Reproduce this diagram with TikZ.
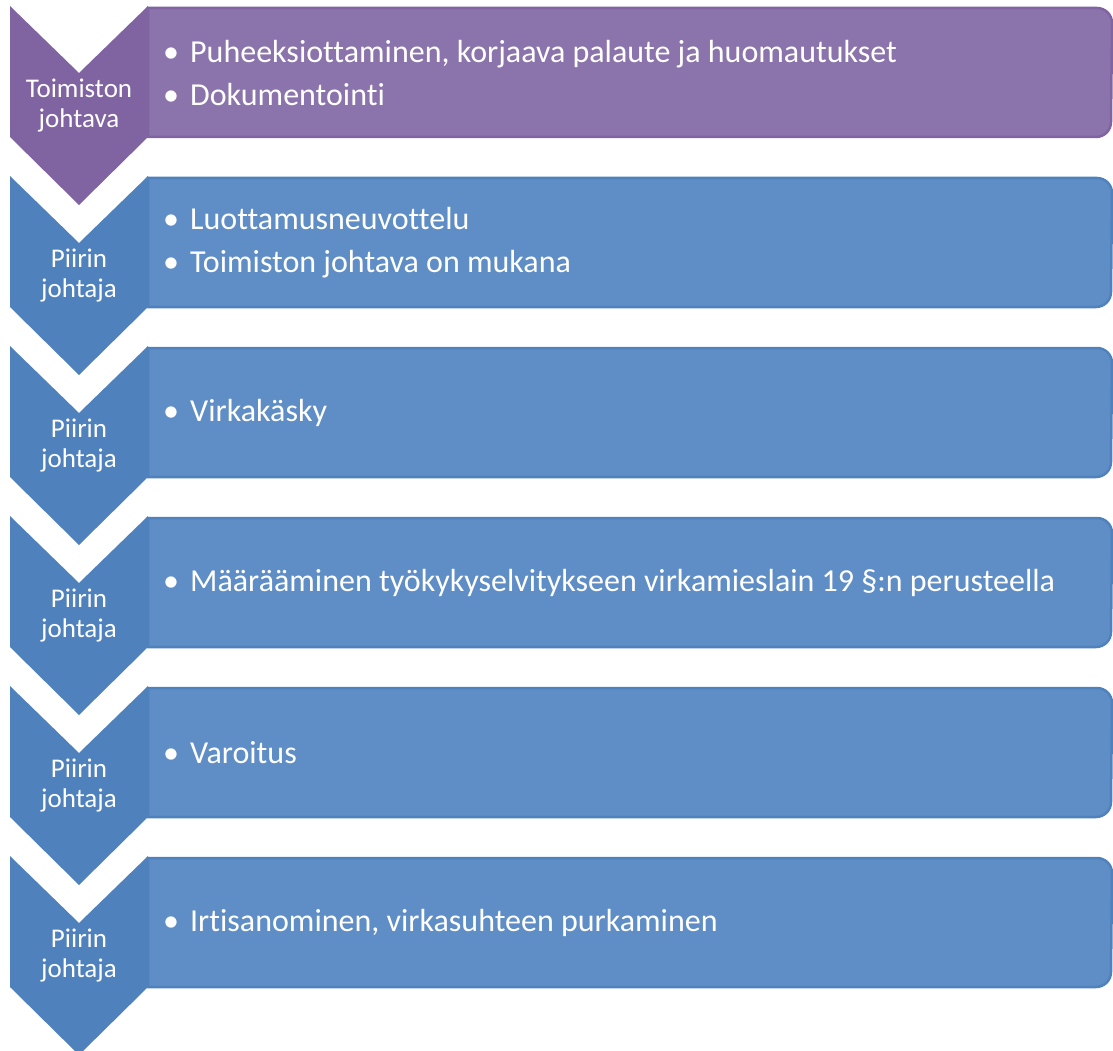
\documentclass[tikz,border=0pt]{standalone}
\usepackage{fontspec}
\setmainfont{Carlito}[Ligatures=NoCommon]
\usepackage{xcolor}
\definecolor{chevpurple}{RGB}{128,100,162}
\definecolor{boxpurple}{RGB}{139,116,171}
\definecolor{chevblue}{RGB}{79,129,189}
\definecolor{boxblue}{RGB}{95,141,197}

\newcommand{\chevron}[2]{% top y, colour
  \fill[#2] (10,#1) -- (79,#1+67) -- (148,#1) -- (148,#1+131) -- (79,#1+199) -- (10,#1+131) -- cycle;}
\newcommand{\itembox}[3]{% top y, fill, border
  \filldraw[fill=#2,draw=#3,line width=2.5pt] (148,#1+2) -- (1097,#1+2)
    arc[start angle=-90,end angle=0,radius=15] -- (1111,#1+116)
    arc[start angle=0,end angle=90,radius=15] -- (148,#1+131) -- cycle;}
\newcommand{\bul}{\makebox[27pt][l]{\textbullet}}

\begin{document}
\begin{tikzpicture}[x=1pt,y=-1pt,
    who/.style={text=white,align=center,inner sep=0pt,font=\fontsize{27}{30}\selectfont},
    what/.style={text=white,align=left,anchor=west,inner sep=0pt,font=\fontsize{32}{43}\selectfont}]
  \useasboundingbox (0,0) rectangle (1113,1051);

  % first step
  \chevron{6}{chevpurple}
  \itembox{6}{boxpurple}{chevpurple}
  \node (who1) at (79,106) [who] {Toimiston\\johtava};
  \node (what1) at (163,73) [what] {\bul Puheeksiottaminen, korjaava palaute ja huomautukset\\\bul Dokumentointi};

  % second step
  \chevron{176}{chevblue}
  \itembox{176}{boxblue}{chevblue}
  \node (who2) at (79,276) [who] {Piirin\\johtaja};
  \node (what2) at (163,243) [what] {\bul Luottamusneuvottelu\\\bul Toimiston johtava on mukana};

  \chevron{346}{chevblue}
  \itembox{346}{boxblue}{chevblue}
  \node (who3) at (79,446) [who] {Piirin\\johtaja};
  \node (what3) at (163,413) [what] {\bul Virkakäsky};

  \chevron{516}{chevblue}
  \itembox{516}{boxblue}{chevblue}
  \node (who4) at (79,616) [who] {Piirin\\johtaja};
  \node (what4) at (163,583) [what] {\bul Määrääminen työkykyselvitykseen virkamieslain 19 §:n perusteella};

  \chevron{686}{chevblue}
  \itembox{686}{boxblue}{chevblue}
  \node (who5) at (79,786) [who] {Piirin\\johtaja};
  \node (what5) at (163,753) [what] {\bul Varoitus};

  % last step
  \chevron{856}{chevblue}
  \itembox{856}{boxblue}{chevblue}
  \node (who6) at (79,956) [who] {Piirin\\johtaja};
  \node (what6) at (163,923) [what] {\bul Irtisanominen, virkasuhteen purkaminen};
\end{tikzpicture}
\end{document}
